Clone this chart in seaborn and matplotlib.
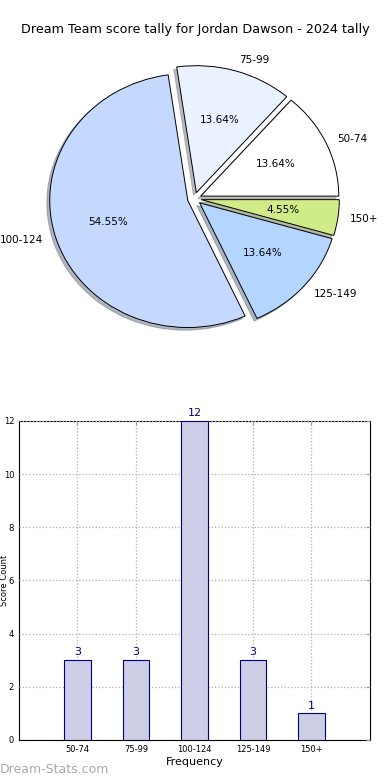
import matplotlib
matplotlib.use("Agg")
import matplotlib.pyplot as plt
import seaborn as sns

bands = ["50-74", "75-99", "100-124", "125-149", "150+"]
counts = [3, 3, 12, 3, 1]
pie_colors = ["#ffffff", "#eaf1ff", "#c5d9ff", "#b4d5ff", "#d0ec88"]
title = "Dream Team score tally for Jordan Dawson - 2024 tally"

sns.set_style("white")
plt.rcParams["font.family"] = ["DejaVu Sans"]
plt.rcParams["text.color"] = "black"
plt.rcParams["axes.labelcolor"] = "black"
plt.rcParams["xtick.labelcolor"] = "black"
plt.rcParams["ytick.labelcolor"] = "black"

fig = plt.figure(figsize=(3.9, 7.8), dpi=100)

# pie on top
ax1 = fig.add_axes([0.056, 0.5417, 0.885, 0.407])
ax1.pie(counts, labels=bands, colors=pie_colors, autopct="%.2f%%",
        explode=[0.05] * len(counts), labeldistance=1.09,
        shadow={"ox": -0.015, "oy": -0.015, "shade": 0.5}, startangle=0,
        wedgeprops={"edgecolor": "black", "linewidth": 0.7},
        textprops={"fontsize": 7.5, "color": "black"})
ax1.set_aspect("auto")
ax1.set_xlim(-1.25, 1.25)
ax1.set_ylim(-1.25, 1.25)
ax1.axis("off")
fig.text(0.5, 1 - 30 / 780, title, ha="center", va="center", fontsize=9.2,
         color="black")

# bar chart below
ax2 = fig.add_axes([0.0487, 0.0513, 0.9, 0.409])
sns.barplot(x=bands, y=counts, width=0.45, color="#cdcde5", saturation=1,
            edgecolor="#000080", linewidth=0.8, ax=ax2, zorder=3)
ax2.bar_label(ax2.containers[0], color="#000080", fontsize=8, padding=2)
ax2.set_xlim(-1, 5)
ax2.set_ylim(0, 12)
ax2.set_yticks(range(0, 13, 2))
ax2.grid(True, linestyle=":", color="#b0b0b0", linewidth=0.9, zorder=0)
ax2.set_axisbelow(False)
for s in ax2.spines.values():
    s.set_color("black")
    s.set_linewidth(0.8)
ax2.tick_params(axis="both", direction="in", top=True, right=True,
                labelsize=6, length=3, color="#999999")
ax2.set_xlabel("Frequency", fontsize=8, labelpad=2)
ax2.set_ylabel("Score Count", fontsize=6)
ax2.yaxis.set_label_coords(-0.029, 0.5)

fig.text(0.0, 4 / 780, "Dream-Stats.com", color="#aaaaaa", fontsize=9,
         ha="left", va="bottom")

fig.savefig("out.png", dpi=100)
